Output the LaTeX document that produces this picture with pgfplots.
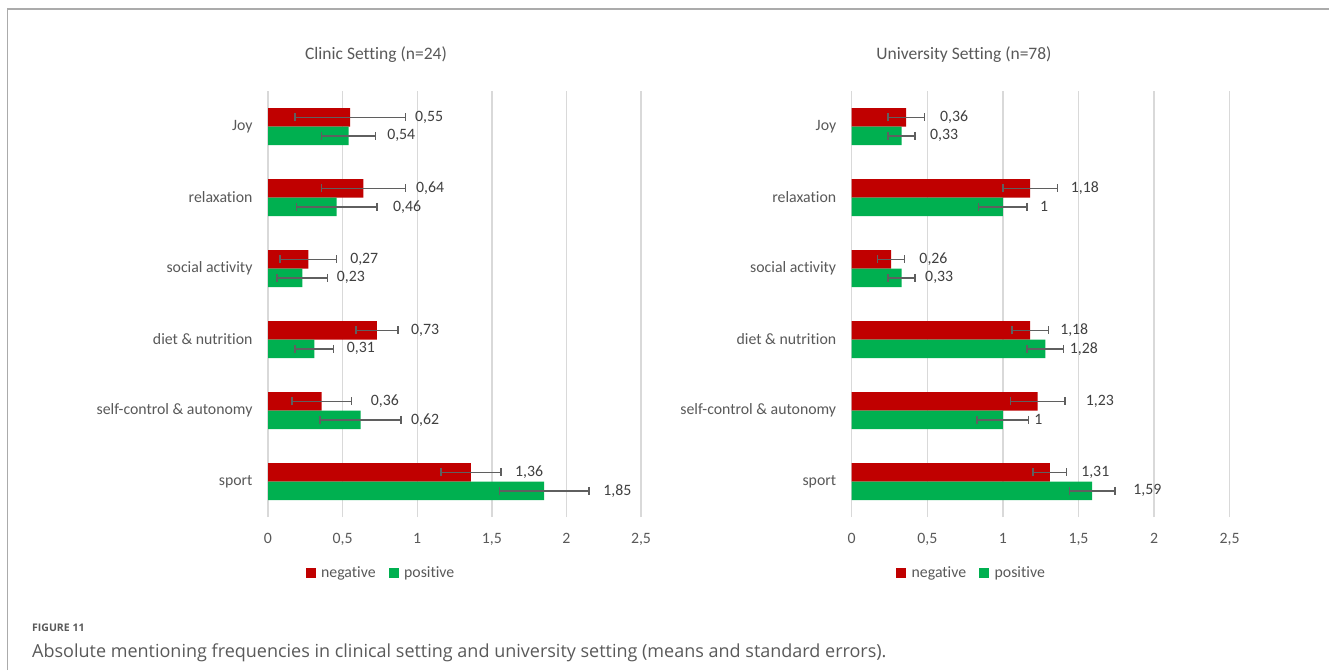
\documentclass[border=0pt]{standalone}
\usepackage{pgfplots}
\pgfplotsset{compat=1.18}
\usepackage{pgfplotstable}
\usepackage{fontspec}
\setmainfont{Carlito}[Ligatures=NoCommon]
\newfontfamily\capfont{Open Sans}

\definecolor{negred}{HTML}{C00000}
\definecolor{posgreen}{HTML}{00B050}
\definecolor{txtgray}{HTML}{595959}
\definecolor{lblgray}{HTML}{404040}
\definecolor{errgray}{HTML}{5F5F5F}
\definecolor{gridgray}{HTML}{D9D9D9}
\definecolor{framegray}{HTML}{ABABAB}
\definecolor{capgray}{HTML}{5A5A5A}

% y: 5 = Joy (top) ... 0 = sport (bottom)
% neg/pos = means, nse/pse = standard errors, nlx/plx = x position of the value labels
\pgfplotstableread{
y neg  nse  pos  pse  nlx   plx
5 0.55 0.37 0.54 0.18 0.985 0.798
4 0.64 0.28 0.46 0.27 0.992 0.838
3 0.27 0.19 0.23 0.17 0.550 0.460
2 0.73 0.14 0.31 0.13 0.958 0.527
1 0.36 0.20 0.62 0.27 0.688 0.958
0 1.36 0.20 1.85 0.30 1.655 2.247
}\clinic

\pgfplotstableread{
y neg  nse  pos  pse  nlx   plx
5 0.36 0.12 0.33 0.09 0.584 0.518
4 1.18 0.18 1.00 0.16 1.448 1.245
3 0.26 0.09 0.33 0.09 0.447 0.485
2 1.18 0.12 1.28 0.12 1.378 1.442
1 1.23 0.18 1.00 0.17 1.548 1.206
0 1.31 0.11 1.59 0.15 1.517 1.862
}\university

% half of the pair of bars, in category units (18.5pt of a 71pt slot)
\def\off{0.1303}

\newcommand\chartfont{\fontsize{15.8}{17}\selectfont}

\pgfplotsset{
  setting/.style={
    scale only axis,
    height=426pt,
    anchor=south west,
    xmin=0, xmax=2.5,
    ymin=-0.5, ymax=5.5,
    xtick={0,0.5,1,1.5,2,2.5},
    ytick={0,1,2,3,4,5},
    yticklabels={sport, self-control \& autonomy, diet \& nutrition, social activity, relaxation, Joy},
    axis line style={draw=none},
    major tick length=0pt,
    xmajorgrids,
    major grid style={draw=gridgray, line width=1.4pt},
    /pgf/number format/.cd, use comma, fixed, precision=2, assume math mode=true,
    /pgfplots/.cd,
    ticklabel style={font=\chartfont, text=txtgray},
    xticklabel style={yshift=-13pt},
    yticklabel style={xshift=-12pt},
    legend columns=2,
    legend style={draw=none, fill=none, font=\chartfont, text=txtgray,
      anchor=center, column sep=0pt, inner sep=0pt,
      /tikz/every odd column/.append style={column sep=3.5pt},
      /tikz/every even column/.append style={column sep=11pt}},
    legend image code/.code={\fill[##1] (0pt,-5pt) rectangle (10pt,5pt);},
    clip=false,
  },
  bars/.style={
    xbar, bar width=18.5pt, bar shift=0pt, draw=none,
    error bars/.cd, x dir=both, x explicit,
    error bar style={draw=errgray, line width=1.5pt},
    error mark options={draw=errgray, line width=1.5pt, mark size=4pt, rotate=90},
    /pgfplots/.cd,
  },
  values/.style={
    draw=none, mark=none, forget plot,
    nodes near coords, point meta=explicit,
    nodes near coords style={anchor=west, inner sep=0pt, font=\chartfont, text=lblgray},
  },
}

\begin{document}
\begin{tikzpicture}
\path[use as bounding box, fill=white] (0pt,0pt) rectangle (1329pt,-670pt);
\draw[framegray, line width=1.6pt] (7.5pt,-670pt) -- (7.5pt,-9pt) -- (1329pt,-9pt);

% Clinic setting
\begin{axis}[setting, at={(268pt,-517pt)}, width=373pt,
  legend style={at={(0.303,-0.132)}}]
\addplot[bars, fill=negred]
  table[x=neg, y expr=\thisrow{y}+\off, x error=nse] {\clinic};
\addplot[bars, fill=posgreen]
  table[x=pos, y expr=\thisrow{y}-\off, x error=pse] {\clinic};
\addplot[values] table[x=nlx, y expr=\thisrow{y}+\off, meta=neg] {\clinic};
\addplot[values] table[x=plx, y expr=\thisrow{y}-\off, meta=pos] {\clinic};
\legend{negative, positive}
\end{axis}

% University setting
\begin{axis}[setting, at={(851.7pt,-517pt)}, width=378pt,
  legend style={at={(0.317,-0.132)}}]
\addplot[bars, fill=negred]
  table[x=neg, y expr=\thisrow{y}+\off, x error=nse] {\university};
\addplot[bars, fill=posgreen]
  table[x=pos, y expr=\thisrow{y}-\off, x error=pse] {\university};
\addplot[values] table[x=nlx, y expr=\thisrow{y}+\off, meta=neg] {\university};
\addplot[values] table[x=plx, y expr=\thisrow{y}-\off, meta=pos] {\university};
\legend{negative, positive}
\end{axis}

\node[font=\fontsize{17.5}{19}\selectfont, text=txtgray] at (376pt,-55pt) {Clinic Setting (n=24)};
\node[font=\fontsize{17.5}{19}\selectfont, text=txtgray] at (964pt,-55pt) {University Setting (n=78)};

\node[anchor=west, inner sep=0pt, font=\capfont\bfseries\fontsize{10.5}{13}\selectfont, text=capgray] at (32pt,-628pt) {FIGURE 11};
\node[anchor=west, inner sep=0pt, font=\capfont\fontsize{18}{21}\selectfont, text=capgray] at (32pt,-653pt) {Absolute mentioning frequencies in clinical setting and university setting (means and standard errors).};
\end{tikzpicture}
\end{document}
